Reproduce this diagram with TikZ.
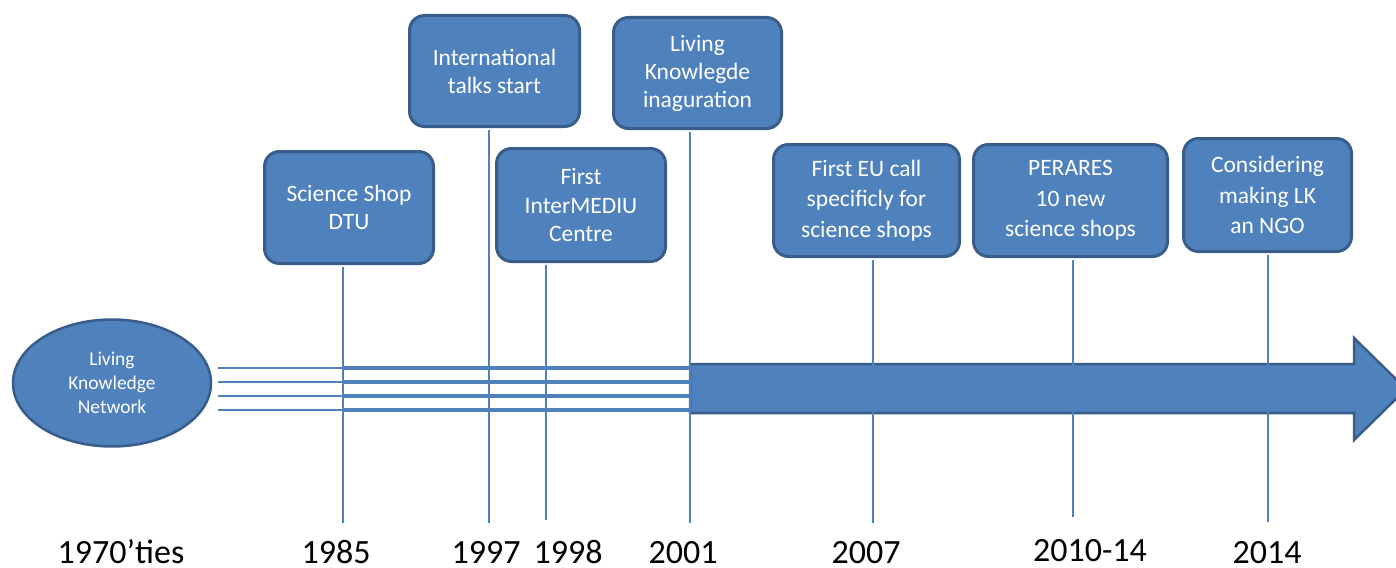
\documentclass[tikz,border=0pt]{standalone}
\usepackage{fontspec}
\setmainfont{Carlito}
\usetikzlibrary{shapes.geometric}
\definecolor{lkfill}{HTML}{4F81BD}
\definecolor{lkdraw}{HTML}{385D8A}
\begin{document}
\begin{tikzpicture}[x=1pt,y=-1pt,
  evbox/.style={draw=lkdraw, line width=3pt, fill=lkfill, rounded corners=15pt,
    text=white, align=center, inner sep=0pt, font=\fontsize{23.5}{28}\selectfont},
  evboxwide/.style={evbox, font=\fontsize{23.5}{30.5}\selectfont},
  tick/.style={draw=lkfill, line width=2pt},
  thinline/.style={draw=lkfill, line width=2pt},
  thickline/.style={draw=lkfill, line width=3.5pt},
  year/.style={font=\fontsize{34}{40}\selectfont, anchor=base, inner sep=0pt, text depth=0pt},
]
\useasboundingbox (0,0) rectangle (1396,567);

% network ellipse
\node[ellipse, draw=lkdraw, line width=2.5pt, fill=lkfill, minimum width=198pt,
  minimum height=127pt, inner sep=0pt, text=white, align=center,
  font=\fontsize{19.5}{24}\selectfont] (net) at (112,383) {Living\\Knowledge\\Network};

% big arrow
\coordinate (arrL) at (690,389);
\fill[lkfill, draw=lkdraw, line width=2.5pt]
  (690,364) -- (1354,364) -- (1354,338) -- (1406,389) -- (1354,440) -- (1354,413) -- (690,413) -- cycle;

% horizontal strands
\foreach \yy [count=\i] in {368,382,396,410} {
  \coordinate (s\i) at (218,\yy);
  \coordinate (m\i) at (343,\yy);
  \coordinate (e\i) at (690,\yy);
  \draw[thinline] (s\i) -- (m\i);
  \draw[thickline] (m\i) -- (e\i);
}

% event boxes
\node[evbox, minimum width=169pt, minimum height=112pt] (b1) at (349,207.5) {Science Shop\\DTU};
\node[evbox, minimum width=170pt, minimum height=111pt] (b2) at (494.5,71) {International\\talks start};
\node[evbox, minimum width=168pt, minimum height=111pt] (b3) at (697.5,73) {Living\\Knowlegde\\inaguration};
\node[evbox, minimum width=169pt, minimum height=113pt] (b4) at (581,205) {First\\InterMEDIU\\Centre};
\node[evboxwide, minimum width=186pt, minimum height=112pt] (b5) at (866.5,200.5) {First EU call\\specificly for\\science shops};
\node[evboxwide, minimum width=194pt, minimum height=112pt] (b6) at (1070.5,200.5) {PERARES\\10 new\\science shops};
\node[evboxwide, minimum width=168pt, minimum height=113pt] (b7) at (1267.5,195) {Considering\\making LK\\an NGO};

% ticks
\coordinate (t1) at (343,523);
\coordinate (t2) at (489,523);
\coordinate (t3) at (690,523);
\coordinate (t4) at (546,520);
\coordinate (t5) at (873,523);
\coordinate (t6) at (1073,517);
\coordinate (t7) at (1268,522);
\foreach \i in {1,...,7} {
  \draw[tick] ([yshift=-1.5pt]b\i.south -| t\i) -- (t\i);
}

% year labels
\node[year] (y0) at (121,563) {1970’ties};
\node[year] (y1) at (336,563) {1985};
\node[year] (y2) at (486,563) {1997};
\node[year] (y3) at (568,563) {1998};
\node[year] (y4) at (683,563) {2001};
\node[year] (y5) at (866,563) {2007};
\node[year] (y6) at (1090,561) {2010-14};
\node[year] (y7) at (1267,563) {2014};
\end{tikzpicture}
\end{document}
